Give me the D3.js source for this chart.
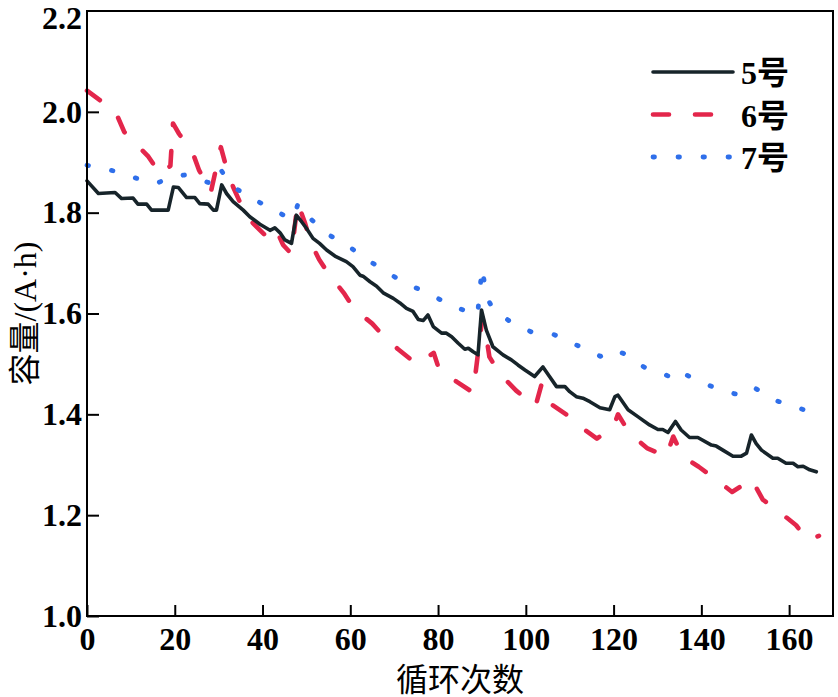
<!DOCTYPE html>
<html>
<head>
<meta charset="utf-8">
<script src="https://cdn.jsdelivr.net/npm/d3@7"></script>
<style>
  body { margin: 0; background: #fff; }
  svg { display: block; }
</style>
</head>
<body>
<svg id="chart" width="838" height="697"></svg>
<script>
// ---- data ----
const seriesNames = ["5号", "6号", "7号"];

const cycles5 = [0, 2.6, 6.4, 7.9, 10.5, 11.6, 13.6, 14.7, 18.5, 19.7, 20.8, 22.7, 24.6, 25.7, 27.6, 28.8, 29.5, 30.7, 31.8, 33.3, 35.6, 37.1, 39.4, 41.7, 42.8, 44, 45.1, 46.6, 47.7, 48.9, 50, 51.5, 53, 54.6, 56.5, 59.1, 60.6, 62.2, 62.9, 64.5, 66, 67.5, 69.8, 71.3, 72.8, 74.3, 75.5, 76.6, 77.7, 78.9, 80.8, 81.9, 83.1, 84.6, 86.1, 86.9, 88, 89.1, 89.9, 91, 92.5, 94.8, 96.7, 98.2, 99.8, 102, 103.9, 105.4, 107, 108.9, 110, 111.5, 113, 114.6, 116.9, 119.1, 120.3, 121, 121.8, 123.3, 125.6, 128.2, 130.1, 131.2, 132.4, 134.1, 135.4, 137.3, 139.2, 142.3, 143.4, 144.9, 147.2, 149.1, 150.3, 151.4, 152.5, 153.7, 156.3, 157.4, 159.3, 160.9, 162, 163.2, 164.7, 166.2];
const values5 = [1.863, 1.838, 1.840, 1.828, 1.829, 1.817, 1.817, 1.805, 1.805, 1.851, 1.850, 1.830, 1.830, 1.818, 1.817, 1.805, 1.805, 1.855, 1.838, 1.822, 1.805, 1.792, 1.777, 1.765, 1.770, 1.760, 1.746, 1.739, 1.795, 1.782, 1.769, 1.749, 1.739, 1.726, 1.714, 1.703, 1.693, 1.676, 1.674, 1.663, 1.654, 1.641, 1.630, 1.621, 1.610, 1.604, 1.588, 1.586, 1.597, 1.574, 1.561, 1.561, 1.554, 1.541, 1.529, 1.531, 1.524, 1.518, 1.607, 1.567, 1.534, 1.518, 1.508, 1.498, 1.488, 1.475, 1.494, 1.475, 1.455, 1.455, 1.445, 1.435, 1.432, 1.425, 1.413, 1.409, 1.435, 1.438, 1.428, 1.409, 1.395, 1.379, 1.370, 1.370, 1.364, 1.386, 1.369, 1.354, 1.354, 1.339, 1.337, 1.329, 1.317, 1.317, 1.323, 1.359, 1.342, 1.329, 1.313, 1.313, 1.303, 1.303, 1.296, 1.297, 1.290, 1.286];

const cycles6 = [0, 6.5, 8.5, 14, 16.8, 19, 19.6, 21, 23, 24, 25.5, 28.2, 30.5, 31.6, 33.3, 35, 37.5, 40.5, 41.5, 43, 44.7, 46.6, 48, 49.7, 50.9, 52.9, 55.1, 58.5, 61, 65, 67.6, 70.9, 74.5, 75.5, 79, 80.4, 84.2, 88, 90.1, 91, 91.7, 94, 97.8, 101.3, 102.2, 103.6, 105.8, 110, 113, 116.2, 119.9, 121, 123.7, 127.6, 131.3, 132, 133.6, 135.8, 139.4, 143, 147, 150.6, 151.4, 154, 158, 161.6, 164.2, 166.8];
const values6 = [2.042, 2.000, 1.960, 1.911, 1.875, 1.893, 1.977, 1.956, 1.932, 1.921, 1.885, 1.840, 1.930, 1.895, 1.851, 1.818, 1.782, 1.756, 1.752, 1.768, 1.736, 1.718, 1.820, 1.779, 1.742, 1.707, 1.678, 1.641, 1.608, 1.580, 1.555, 1.529, 1.504, 1.500, 1.522, 1.485, 1.465, 1.443, 1.592, 1.554, 1.514, 1.481, 1.447, 1.422, 1.416, 1.460, 1.420, 1.395, 1.372, 1.352, 1.374, 1.400, 1.362, 1.333, 1.319, 1.316, 1.356, 1.316, 1.296, 1.273, 1.246, 1.266, 1.272, 1.231, 1.205, 1.180, 1.150, 1.159];

const cycles7 = [0, 6, 10.5, 15.9, 19, 22.5, 27.6, 29, 30.5, 32.9, 37.1, 41.7, 45.6, 47, 48.1, 51.3, 55.1, 59.5, 63.5, 68.1, 72.9, 77.7, 82.8, 89, 90, 91.2, 92.5, 96.7, 101.6, 106.2, 110.4, 114.9, 117, 120, 122.2, 127.1, 131.9, 133, 134.6, 140, 145.5, 149.5, 152.2, 157.1, 162, 166.6];
const values7 = [1.894, 1.883, 1.870, 1.858, 1.871, 1.875, 1.860, 1.857, 1.885, 1.854, 1.830, 1.810, 1.791, 1.788, 1.818, 1.785, 1.756, 1.734, 1.709, 1.683, 1.658, 1.641, 1.616, 1.597, 1.690, 1.630, 1.610, 1.582, 1.562, 1.559, 1.542, 1.524, 1.515, 1.528, 1.521, 1.493, 1.478, 1.474, 1.487, 1.463, 1.445, 1.437, 1.452, 1.427, 1.413, 1.400];

const xTicks = [0, 20, 40, 60, 80, 100, 120, 140, 160];
const yTicks = [1.0, 1.2, 1.4, 1.6, 1.8, 2.0, 2.2];
const xTitle = "循环次数";
const yTitle = "容量/(A·h)";

// ---- layout ----
const svg = d3.select("#chart");
const mLeft = 87, mRight = 833, mTop = 11, mBottom = 616;
const x = d3.scaleLinear().domain([0, 170]).range([mLeft, mRight]);
const y = d3.scaleLinear().domain([1.0, 2.2]).range([mBottom, mTop]);

const numFont = "'Liberation Serif', 'Times New Roman', serif";
const cjkFont = "'Liberation Serif', 'Noto Sans CJK SC', serif";

const styles = [
  { color: "#17242a", width: 3.6, dash: null, cap: "round" },
  { color: "#e3264b", width: 4.6, dash: "16,26", cap: "round" },
  { color: "#2f6fea", width: 4.8, dash: "1.5,23.5", cap: "round" }
];

const seriesData = [
  cycles5.map((c, i) => [c, values5[i]]),
  cycles6.map((c, i) => [c, values6[i]]),
  cycles7.map((c, i) => [c, values7[i]])
];

const line = d3.line().x(d => x(d[0])).y(d => y(d[1]));

const order = [1, 2, 0];
order.forEach(i => {
  const s = styles[i];
  svg.append("path")
    .datum(seriesData[i])
    .attr("d", line)
    .attr("fill", "none")
    .attr("stroke", s.color)
    .attr("stroke-width", s.width)
    .attr("stroke-linecap", s.cap)
    .attr("stroke-linejoin", "round")
    .attr("stroke-dasharray", s.dash);
});

// ---- axes ----
const xAxis = d3.axisBottom(x).tickValues(xTicks).tickSizeInner(-11).tickSizeOuter(0).tickPadding(11)
  .tickFormat(d3.format("d"));
const gx = svg.append("g").attr("transform", `translate(0,${mBottom})`).call(xAxis);
const yAxis = d3.axisLeft(y).tickValues(yTicks).tickSizeInner(-12).tickSizeOuter(0).tickPadding(5)
  .tickFormat(d3.format(".1f"));
const gy = svg.append("g").attr("transform", `translate(${mLeft},0)`).call(yAxis);

[gx, gy].forEach(g => {
  g.select(".domain").remove();
  g.selectAll(".tick line").attr("stroke", "#000").attr("stroke-width", 2);
  g.selectAll(".tick text")
    .attr("fill", "#000")
    .style("font-family", numFont)
    .style("font-weight", "bold")
    .style("font-size", "32px");
});
gy.selectAll(".tick line").filter(d => d === 2.2).remove();
// the top label sits slightly lower so it is not clipped by the page edge
gy.selectAll(".tick text").filter(d => d === 2.2).attr("y", 7);

// frame
svg.append("rect")
  .attr("x", mLeft).attr("y", mTop)
  .attr("width", mRight - mLeft).attr("height", mBottom - mTop)
  .attr("fill", "none").attr("stroke", "#000").attr("stroke-width", 2);

// titles
svg.append("text")
  .attr("x", (mLeft + mRight) / 2).attr("y", 691)
  .attr("text-anchor", "middle")
  .style("font-family", cjkFont).style("font-size", "32px").attr("fill", "#000")
  .text(xTitle);

svg.append("text")
  .attr("transform", `translate(36,${(mTop + mBottom) / 2}) rotate(-90)`)
  .attr("text-anchor", "middle")
  .style("font-family", cjkFont).style("font-size", "32px").attr("fill", "#000")
  .text(yTitle);

// ---- legend ----
const legX1 = 653, legX2 = 733, legY0 = 72, legStep = 42.5;
seriesNames.forEach((name, i) => {
  const s = styles[i];
  const yy = legY0 + i * legStep;
  svg.append("line")
    .attr("x1", legX1).attr("x2", legX2).attr("y1", yy).attr("y2", yy)
    .attr("stroke", s.color).attr("stroke-width", s.width)
    .attr("stroke-linecap", s.cap).attr("stroke-dasharray", s.dash);
  svg.append("text")
    .attr("x", 741).attr("y", yy + 12)
    .style("font-family", cjkFont).style("font-size", "32px").style("font-weight", "bold")
    .attr("fill", "#000")
    .text(name);
});
</script>
</body>
</html>
